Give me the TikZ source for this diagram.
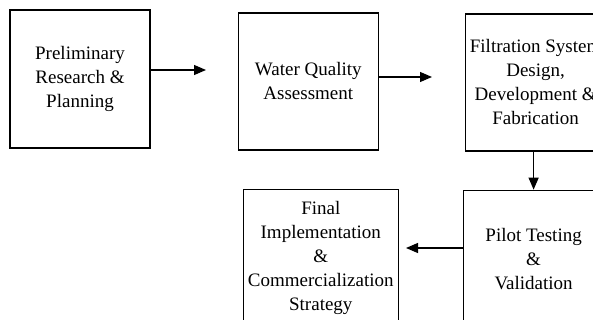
\documentclass[tikz,border=0pt]{standalone}
\usepackage{fontspec}
\setmainfont{Liberation Serif}
\usetikzlibrary{positioning,arrows.meta}

\begin{document}
\begin{tikzpicture}[x=1pt,y=1pt,
  stage/.style={draw, line width=1.3pt, minimum width=140pt, minimum height=137pt, inner sep=0pt, align=center, font=\fontsize{19}{24}\selectfont},
  flow/.style={line width=1.2pt, -{Triangle[length=12pt,width=10pt]}}]
\clip (0,0) rectangle (593,-320);
\node[stage, minimum height=138pt] (prelim) at (80,-79) {Preliminary\\Research \&\\Planning};
\node[stage, right=87pt of prelim, yshift=-2.5pt] (water) {Water Quality\\Assessment};
\node[stage, right=86pt of water, yshift=-1pt] (filter) {Filtration System\\Design,\\Development \&\\Fabrication};
\node[stage, below=38pt of filter, xshift=-2pt] (pilot) {Pilot Testing\\\&\\Validation};
\node[stage, minimum width=155pt, left=64pt of pilot, yshift=1pt] (final) {Final\\Implementation\\\&\\Commercialization\\Strategy};
\coordinate (t1) at (206,-70);
\coordinate (t2) at (432,-77);
\coordinate (t4) at (406,-248);
\draw[flow] (prelim.east |- t1) -- (t1);
\draw[flow] (water.east |- t2) -- (t2);
\draw[flow] (filter.south -| pilot.north) -- (pilot.north);
\draw[flow] (pilot.west |- t4) -- (t4);
\end{tikzpicture}
\end{document}
